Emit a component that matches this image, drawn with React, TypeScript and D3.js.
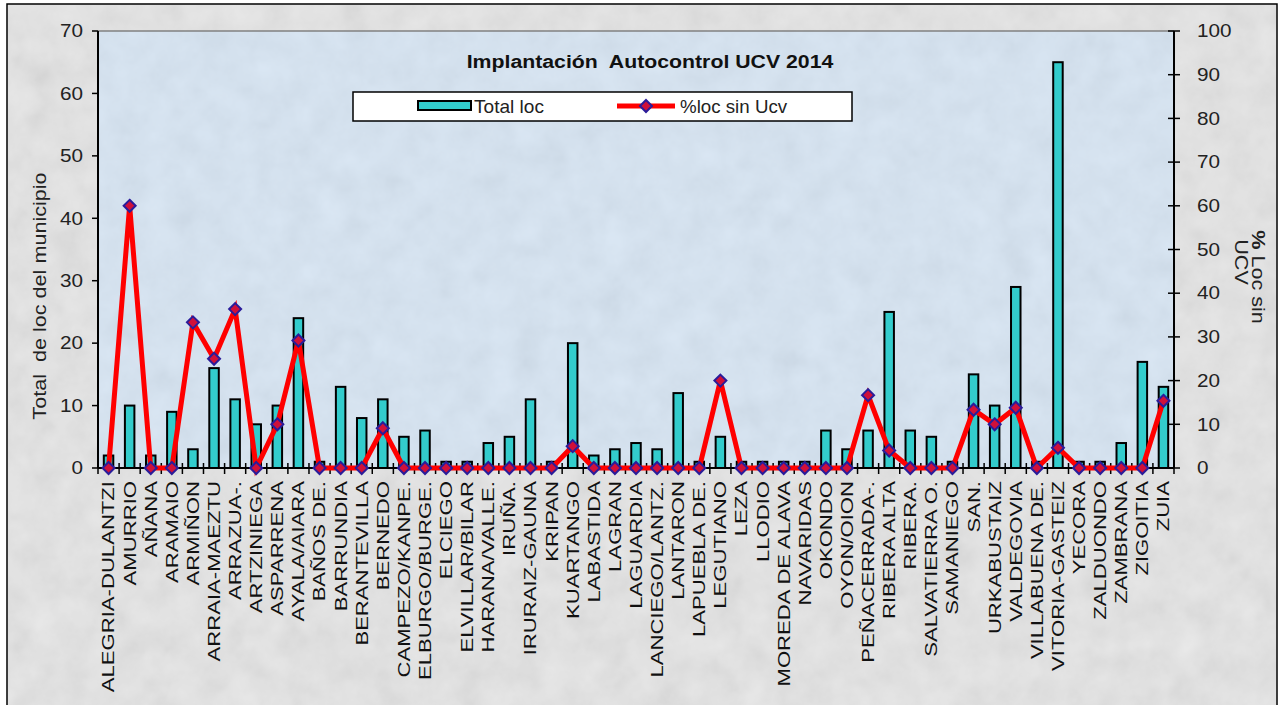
import React from 'react';
import * as d3 from 'd3';

const municipios = [
  'ALEGRIA-DULANTZI', 'AMURRIO', 'AÑANA', 'ARAMAIO', 'ARMIÑON', 'ARRAIA-MAEZTU', 'ARRAZUA-.',
  'ARTZINIEGA', 'ASPARRENA', 'AYALA/AIARA', 'BAÑOS DE.', 'BARRUNDIA', 'BERANTEVILLA', 'BERNEDO',
  'CAMPEZO/KANPE.', 'ELBURGO/BURGE.', 'ELCIEGO', 'ELVILLAR/BILAR', 'HARANA/VALLE.', 'IRUÑA.',
  'IRURAIZ-GAUNA', 'KRIPAN', 'KUARTANGO', 'LABASTIDA', 'LAGRAN', 'LAGUARDIA', 'LANCIEGO/LANTZ.',
  'LANTARON', 'LAPUEBLA DE.', 'LEGUTIANO', 'LEZA', 'LLODIO', 'MOREDA DE ALAVA', 'NAVARIDAS',
  'OKONDO', 'OYON/OION', 'PEÑACERRADA-.', 'RIBERA ALTA', 'RIBERA.', 'SALVATIERRA O.', 'SAMANIEGO',
  'SAN.', 'URKABUSTAIZ', 'VALDEGOVIA', 'VILLABUENA DE.', 'VITORIA-GASTEIZ', 'YECORA', 'ZALDUONDO',
  'ZAMBRANA', 'ZIGOITIA', 'ZUIA',
];

// Total loc (eje izquierdo)
const totalLoc = [
  2, 10, 2, 9, 3, 16, 11, 7, 10, 24,
  1, 13, 8, 11, 5, 6, 1, 1, 4, 5,
  11, 1, 20, 2, 3, 4, 3, 12, 1, 5,
  1, 1, 1, 1, 6, 3, 6, 25, 6, 5,
  1, 15, 10, 29, 1, 65, 1, 1, 4, 17,
  13,
];

// %loc sin Ucv (eje derecho)
const pctSinUcv = [
  0, 60, 0, 0, 33.33, 25, 36.36, 0, 10, 29.17,
  0, 0, 0, 9.09, 0, 0, 0, 0, 0, 0,
  0, 0, 5, 0, 0, 0, 0, 0, 0, 20,
  0, 0, 0, 0, 0, 0, 16.67, 4, 0, 0,
  0, 13.33, 10, 13.79, 0, 4.62, 0, 0, 0, 0,
  15.38,
];

const leftTicks = [0, 10, 20, 30, 40, 50, 60, 70];
const rightTicks = [0, 10, 20, 30, 40, 50, 60, 70, 80, 90, 100];

const W = 1283;
const H = 705;
const plot = { left: 98, right: 1174, top: 31, bottom: 468 };
const FONT = '"Liberation Sans", Arial, sans-serif';
const TEAL = '#33cccc';
const RED = '#ff0000';
const NB = '\u00a0';

const Diamond = ({ x, y }: { x: number; y: number }) => (
  <path d={`M${x},${y - 6}L${x + 6},${y}L${x},${y + 6}L${x - 6},${y}Z`} fill="#d0103a" stroke="#2a1c9a" strokeWidth={2} />
);

export default function App() {
  const x = d3.scaleBand<string>().domain(municipios).range([plot.left, plot.right]).padding(0);
  const yL = d3.scaleLinear().domain([0, 70]).range([plot.bottom, plot.top]);
  const yR = d3.scaleLinear().domain([0, 100]).range([plot.bottom, plot.top]);
  const bw = x.bandwidth() * 0.45;
  const cx = (d: string) => (x(d) as number) + x.bandwidth() / 2;

  const line = d3.line<number>()
    .x((_, i) => cx(municipios[i]))
    .y(d => yR(d));

  const boundaries = municipios.map(d => x(d) as number).concat([plot.right]);

  return (
    <svg width={W} height={H} style={{ position: 'absolute', left: 0, top: 0 }} fontFamily={FONT}>
      <defs>
        <filter id="grain" x="0" y="0" width="100%" height="100%">
          <feTurbulence type="fractalNoise" baseFrequency="0.035" numOctaves={4} seed={7} />
          <feColorMatrix type="matrix" values="0.33 0.33 0.33 0 0  0.33 0.33 0.33 0 0  0.33 0.33 0.33 0 0  0 0 0 0 1" />
        </filter>
      </defs>

      {/* fondo general */}
      <rect x={0} y={0} width={W} height={H} fill="#ffffff" />
      <rect x={7} y={4} width={1270} height={H} fill="#e9e9e9" stroke="#000" strokeWidth={1.5} />
      <rect x={8} y={5} width={1268} height={H} filter="url(#grain)" opacity={0.18} />

      {/* area de trazado */}
      <rect x={plot.left} y={plot.top} width={plot.right - plot.left} height={plot.bottom - plot.top} fill="#d9e8f7" />
      <rect x={plot.left} y={plot.top} width={plot.right - plot.left} height={plot.bottom - plot.top} filter="url(#grain)" opacity={0.14} />
      <line x1={plot.left} x2={plot.right} y1={plot.top} y2={plot.top} stroke="#808080" strokeWidth={1.5} />

      {/* barras */}
      {municipios.map((d, i) => (
        <rect key={d} x={cx(d) - bw / 2} y={yL(totalLoc[i])} width={bw} height={plot.bottom - yL(totalLoc[i])}
          fill={TEAL} stroke="#000" strokeWidth={2} />
      ))}

      {/* ejes */}
      <line x1={plot.left} x2={plot.left} y1={plot.top} y2={plot.bottom} stroke="#000" strokeWidth={2} />
      <line x1={plot.right} x2={plot.right} y1={plot.top} y2={plot.bottom} stroke="#000" strokeWidth={2} />
      <line x1={plot.left} x2={plot.right} y1={plot.bottom} y2={plot.bottom} stroke="#000" strokeWidth={2} />
      {boundaries.map((b, i) => (
        <line key={i} x1={b} x2={b} y1={plot.bottom - 5} y2={plot.bottom + 6} stroke="#000" strokeWidth={1.5} />
      ))}
      {leftTicks.map(t => (
        <g key={t}>
          <line x1={plot.left - 6} x2={plot.left} y1={yL(t)} y2={yL(t)} stroke="#000" strokeWidth={1.5} />
          <text x={83} y={yL(t)} dy="0.35em" textAnchor="end" fontSize={18} fill="#222"
            transform={`translate(83,0) scale(1.15,1) translate(-83,0)`}>{t}</text>
        </g>
      ))}
      {rightTicks.map(t => (
        <g key={t}>
          <line x1={plot.right - 6} x2={plot.right + 6} y1={yR(t)} y2={yR(t)} stroke="#000" strokeWidth={1.5} />
          <text x={1197} y={yR(t)} dy="0.35em" textAnchor="start" fontSize={18} fill="#222"
            transform={`translate(1197,0) scale(1.15,1) translate(-1197,0)`}>{t}</text>
        </g>
      ))}

      {/* linea % */}
      <path d={line(pctSinUcv) || ''} fill="none" stroke={RED} strokeWidth={5} strokeLinejoin="miter" />
      {pctSinUcv.map((v, i) => (
        <Diamond key={i} x={cx(municipios[i])} y={yR(v)} />
      ))}

      {/* etiquetas de categorias */}
      {municipios.map(d => (
        <text key={d} transform={`translate(${cx(d)},481) rotate(-90) scale(1.34,1)`} dy="0.36em"
          textAnchor="end" fontSize={16.5} fill="#111">{d}</text>
      ))}

      {/* titulos de ejes */}
      <text transform="translate(40,296) rotate(-90) scale(1.2,1)" dy="0.35em" textAnchor="middle" fontSize={18} fill="#222">
        {`Total${NB} de loc del municipio`}
      </text>
      <text transform="translate(1258,277) rotate(90) scale(1.2,1)" dy="0.35em" textAnchor="middle" fontSize={18} fill="#222">
        <tspan fontWeight="bold">%</tspan> Loc sin
      </text>
      <text transform="translate(1241,262) rotate(90) scale(1.2,1)" dy="0.35em" textAnchor="middle" fontSize={18} fill="#222">
        UCV
      </text>

      {/* titulo */}
      <text transform="translate(650,68) scale(1.15,1)" textAnchor="middle" fontSize={18.5} fontWeight="bold" fill="#111">
        {`Implantación${NB} Autocontrol UCV 2014`}
      </text>

      {/* leyenda */}
      <rect x={353} y={92} width={499} height={29} fill="#fff" stroke="#000" strokeWidth={1.5} />
      <rect x={418} y={101} width={53} height={9} fill={TEAL} stroke="#000" strokeWidth={2} />
      <text transform="translate(474,113) scale(1.06,1)" fontSize={18} fill="#222">Total loc</text>
      <line x1={617} x2={675} y1={106} y2={106} stroke={RED} strokeWidth={5} />
      <Diamond x={646} y={106} />
      <text transform="translate(680,113) scale(1.04,1)" fontSize={18} fill="#222">%loc sin Ucv</text>
    </svg>
  );
}
